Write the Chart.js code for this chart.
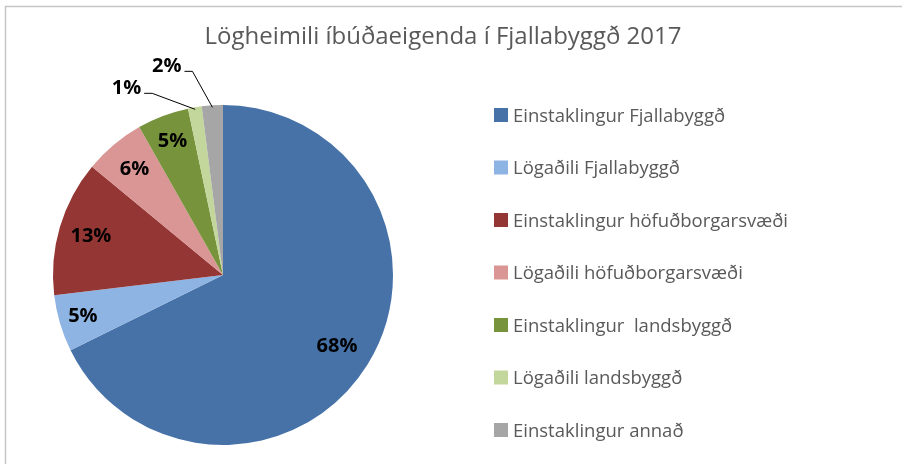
<!DOCTYPE html>
<html>
<head>
<meta charset="utf-8">
<script src="https://cdn.jsdelivr.net/npm/chart.js@4.4.1/dist/chart.umd.min.js"></script>
<style>
  html, body { margin: 0; padding: 0; background: #ffffff; }
  #wrap { width: 902px; height: 464px; }
</style>
</head>
<body>
<div id="wrap"><canvas id="owners-pie" width="902" height="464"></canvas></div>
<script>
// Chart data
const chartTitle = 'Lögheimili íbúðaeigenda í Fjallabyggð 2017';
const categories = [
    'Einstaklingur Fjallabyggð',
    'Lögaðili Fjallabyggð',
    'Einstaklingur höfuðborgarsvæði',
    'Lögaðili höfuðborgarsvæði',
    'Einstaklingur  landsbyggð',
    'Lögaðili landsbyggð',
    'Einstaklingur annað'
];
const shares = [67.7, 5.4, 12.9, 5.8, 4.9, 1.3, 2.0];
const sliceColors = ['#4672a8', '#8eb4e3', '#943634', '#d99694', '#77933c', '#c3d69b', '#a6a6a6'];

// label placement (fraction of radius for inside labels, elbow offsets for outside ones)
const insideRadius = [0.79, 0.86, 0.81, 0.81, 0.84, 0, 0];
const leaderElbow = { 5: [-43, -16], 6: [-20, -36] };

const FONT = '"Open Sans", "DejaVu Sans", sans-serif';

// Function to draw the frame, title, slice labels and legend
const decorPlugin = {
    id: 'decor',
    beforeDraw(chart) {
        const ctx = chart.ctx;
        ctx.save();
        ctx.fillStyle = '#ffffff';
        ctx.fillRect(0, 0, chart.width, chart.height);
        ctx.strokeStyle = '#c6c6c6';
        ctx.lineWidth = 1.5;
        ctx.beginPath();
        ctx.moveTo(5.5, chart.height + 2);
        ctx.lineTo(5.5, 6.5);
        ctx.lineTo(chart.width + 2, 6.5);
        ctx.stroke();
        ctx.restore();
    },
    afterDraw(chart) {
        const ctx = chart.ctx;
        const meta = chart.getDatasetMeta(0);
        ctx.save();

        // Title
        ctx.fillStyle = '#595959';
        ctx.font = '24px ' + FONT;
        ctx.textAlign = 'center';
        ctx.textBaseline = 'alphabetic';
        ctx.fillText(chartTitle, 443, 44);

        // Slice labels
        ctx.font = 'bold 20px ' + FONT;
        ctx.fillStyle = '#000000';
        meta.data.forEach((arc, i) => {
            const p = arc.getProps(['x', 'y', 'startAngle', 'endAngle', 'outerRadius'], true);
            const mid = (p.startAngle + p.endAngle) / 2;
            const text = Math.round(shares[i]) + '%';
            if (leaderElbow[i]) {
                const ex = p.x + Math.cos(mid) * (p.outerRadius - 2);
                const ey = p.y + Math.sin(mid) * (p.outerRadius - 2);
                const bx = ex + leaderElbow[i][0];
                const by = ey + leaderElbow[i][1];
                ctx.strokeStyle = '#000000';
                ctx.lineWidth = 1;
                ctx.beginPath();
                ctx.moveTo(ex, ey);
                ctx.lineTo(bx, by);
                ctx.lineTo(bx - 8, by);
                ctx.stroke();
                ctx.textAlign = 'right';
                ctx.textBaseline = 'middle';
                ctx.fillText(text, bx - 11, by - 5);
            } else {
                const r = p.outerRadius * insideRadius[i];
                ctx.textAlign = 'center';
                ctx.textBaseline = 'middle';
                ctx.fillText(text, p.x + Math.cos(mid) * r, p.y + Math.sin(mid) * r);
            }
        });

        // Legend
        ctx.font = '18.5px ' + FONT;
        ctx.textAlign = 'left';
        ctx.textBaseline = 'alphabetic';
        categories.forEach((label, i) => {
            const cy = 115 + i * 52.5;
            ctx.fillStyle = sliceColors[i];
            ctx.fillRect(494, cy - 7, 14, 14);
            ctx.fillStyle = '#595959';
            ctx.fillText(label, 513, cy + 6.5);
        });
        ctx.restore();
    }
};

function initializeChart() {
    const canvas = document.getElementById('owners-pie');
    const ctx = canvas.getContext('2d');

    new Chart(ctx, {
        type: 'pie',
        data: {
            labels: categories,
            datasets: [{
                data: shares,
                backgroundColor: sliceColors,
                borderWidth: 0
            }]
        },
        options: {
            responsive: false,
            devicePixelRatio: 1,
            animation: false,
            layout: {
                padding: { left: 53, top: 105, right: 509, bottom: 19 }
            },
            plugins: {
                legend: { display: false },
                title: { display: false },
                tooltip: { enabled: false }
            }
        },
        plugins: [decorPlugin]
    });
}

initializeChart();
</script>
</body>
</html>
